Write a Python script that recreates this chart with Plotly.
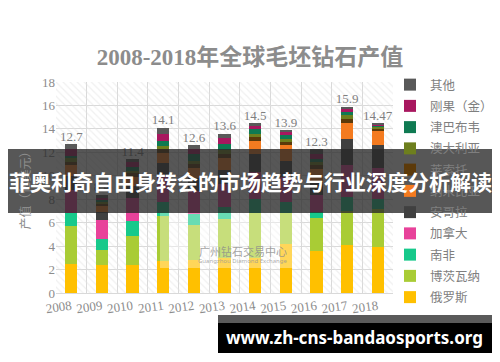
import plotly.graph_objects as go

# ---------------- data ----------------
years = [2008, 2009, 2010, 2011, 2012, 2013, 2014, 2015, 2016, 2017, 2018]
year_labels = [str(y) for y in years]
total_labels = ["12.7", "8.4", "11.4", "14.1", "12.6", "13.6", "14.5", "13.9", "12.3", "15.9", "14.47"]

russia    = [2.50, 2.35, 2.35, 2.70, 2.80, 3.00, 3.00, 4.20, 3.60, 4.10, 3.95]
botswana  = [3.20, 1.35, 2.55, 3.90, 3.00, 3.30, 3.80, 2.60, 2.80, 2.90, 3.20]
s_africa  = [1.10, 0.90, 1.20, 1.20, 0.90, 1.00, 1.20, 1.00, 0.50, 1.20, 0.90]
canada    = [2.00, 1.60, 2.00, 2.20, 2.00, 2.00, 2.30, 2.10, 1.50, 2.70, 2.60]
angola    = [1.20, 0.70, 1.00, 1.10, 1.10, 1.20, 1.60, 1.40, 1.10, 2.20, 2.00]
namibia   = [0.90, 0.50, 0.80, 0.85, 0.90, 1.00, 1.10, 1.30, 1.10, 1.40, 1.20]
lesotho   = [0.30, 0.20, 0.35, 0.30, 0.30, 0.35, 0.30, 0.30, 0.30, 0.35, 0.20]
australia = [0.30, 0.20, 0.20, 0.30, 0.30, 0.35, 0.30, 0.25, 0.25, 0.30, 0.12]
zimbabwe  = [0.20, 0.10, 0.30, 0.40, 0.60, 0.55, 0.35, 0.30, 0.30, 0.30, 0.10]
drc       = [0.60, 0.20, 0.50, 0.65, 0.40, 0.50, 0.30, 0.25, 0.45, 0.25, 0.10]
other     = [0.40, 0.30, 0.15, 0.50, 0.30, 0.35, 0.25, 0.20, 0.40, 0.20, 0.10]

series = [
    ("俄罗斯", russia, "#ffc000"),
    ("博茨瓦纳", botswana, "#a9cc35"),
    ("南非", s_africa, "#17c98b"),
    ("加拿大", canada, "#e8429a"),
    ("安哥拉", angola, "#404040"),
    ("纳米比亚", namibia, "#f47b20"),
    ("莱索托", lesotho, "#5c3a0a"),
    ("澳大利亚", australia, "#6e7f1e"),
    ("津巴布韦", zimbabwe, "#0f7a52"),
    ("刚果（金）", drc, "#a8175f"),
    ("其他", other, "#595959"),
]

# ---------------- geometry helpers (pixel -> container fraction) ----------------
L, R, T, B = 56, 107, 82, 69
W, H = 500, 362


def cx(x):
    return x / W


def cy(y):
    return 1 - y / H


SERIF = "Liberation Serif, Times New Roman, serif"
CJK = "Noto Sans CJK SC, sans-serif"
GRAY = "#8c8c8c"

fig = go.Figure()

# hatched plot background (base subplot)
fig.add_bar(
    x=[(years[0] + years[-1]) / 2], y=[18], width=[len(years)],
    marker=dict(color="rgba(0,0,0,0)", line_width=0,
                pattern=dict(shape="\\", fgcolor="#e2e2e2", size=5, solidity=0.25)),
    showlegend=False, hoverinfo="skip",
)

n = len(series)
for i, (name, vals, color) in enumerate(series):
    fig.add_bar(x=years, y=vals, name=name, legendgroup=name, legendrank=n - i,
                marker_color=color, marker_line_width=0, width=0.4, xaxis="x2", yaxis="y2")

sums = [sum(v[i] for _, v, _ in series) for i in range(len(years))]
fig.add_scatter(x=years, y=sums, text=total_labels, mode="text", textposition="top center",
                textfont=dict(family=SERIF, size=13, color="#7f7f7f"),
                showlegend=False, hoverinfo="skip", xaxis="x2", yaxis="y2", cliponaxis=False)

bounds = [y - 0.5 for y in years] + [years[-1] + 0.5]
xr = [years[0] - 0.5, years[-1] + 0.5]

fig.update_layout(
    width=W, height=H,
    margin=dict(l=L, r=R, t=T, b=B, autoexpand=False),
    paper_bgcolor="white", plot_bgcolor="white",
    barmode="stack",
    showlegend=True,
    legend=dict(traceorder="grouped", tracegroupgap=2, xref="container", yref="container",
                x=cx(390), y=cy(70), xanchor="left", yanchor="top", maxheight=330,
                font=dict(family=CJK, size=12.5, color="#7f7f7f"), bgcolor="rgba(0,0,0,0)"),
    title=dict(text="<b>2008-2018年全球毛坯钻石产值</b>", x=0.5, xanchor="center", y=cy(57),
               yanchor="middle", font=dict(family=SERIF + ", Noto Sans CJK SC", size=23, color=GRAY)),
    xaxis=dict(range=xr, tickmode="array", tickvals=years, ticktext=year_labels, tickangle=-8,
               tickfont=dict(family=SERIF, size=13, color=GRAY), showgrid=False, zeroline=False,
               showline=True, linecolor="#d9d9d9", ticks="",
               minor=dict(tickmode="array", tickvals=bounds, showgrid=True, gridcolor="#d9d9d9",
                          gridwidth=1, ticks="")),
    yaxis=dict(range=[0, 18], dtick=2, showgrid=True, gridcolor="#d9d9d9", zeroline=False,
               tickfont=dict(family=SERIF, size=13, color=GRAY), ticks="",
               title=dict(text="产值（亿美元）", font=dict(family=CJK, size=12, color=GRAY), standoff=8)),
    xaxis2=dict(range=xr, overlaying="x", visible=False),
    yaxis2=dict(range=[0, 18], overlaying="y", visible=False),
)


def rect(x0, x1, y0, y1, color):
    # pixel box on the page, drawn above the chart
    return dict(type="rect", xref="paper", yref="paper",
                x0=(x0 - L) / (W - L - R), x1=(x1 - L) / (W - L - R),
                y0=(H - B - y1) / (H - T - B), y1=(H - B - y0) / (H - T - B),
                fillcolor=color, line_width=0, layer="above")


def label(text, x, y, font):
    return dict(text=text, xref="paper", yref="paper",
                x=(x - L) / (W - L - R), y=(H - B - y) / (H - T - B),
                xanchor="center", yanchor="middle", showarrow=False, font=font)


shapes = [
    rect(160, 300, 213, 268, "rgba(255,255,255,0.35)"),
    rect(8, 492, 149, 213, "rgba(40,40,40,0.78)"),
    rect(218, 492, 315, 323, "#5a5a5a"),
    rect(218, 492, 323, 353, "black"),
]
annotations = [
    label("广州钻石交易中心", 243, 251, dict(family=CJK, size=11, color="rgba(140,140,140,0.8)")),
    label("Guangzhou Diamond Exchange", 243, 261, dict(family="Noto Sans", size=6, color="rgba(150,150,150,0.8)")),
    label("<b>菲奥利奇自由身转会的市场趋势与行业深度分析解读</b>", 250, 181,
          dict(family=CJK, size=21, color="white")),
    label("<b>www.zh-cns-bandaosports.org</b>", 354, 337, dict(family="Noto Sans", size=17, color="white")),
]

fig.update_layout(shapes=shapes, annotations=annotations)

fig.write_html("out.html", config={"displayModeBar": False},
               post_script="document.body.style.margin='0px';document.body.style.overflow='hidden';")
